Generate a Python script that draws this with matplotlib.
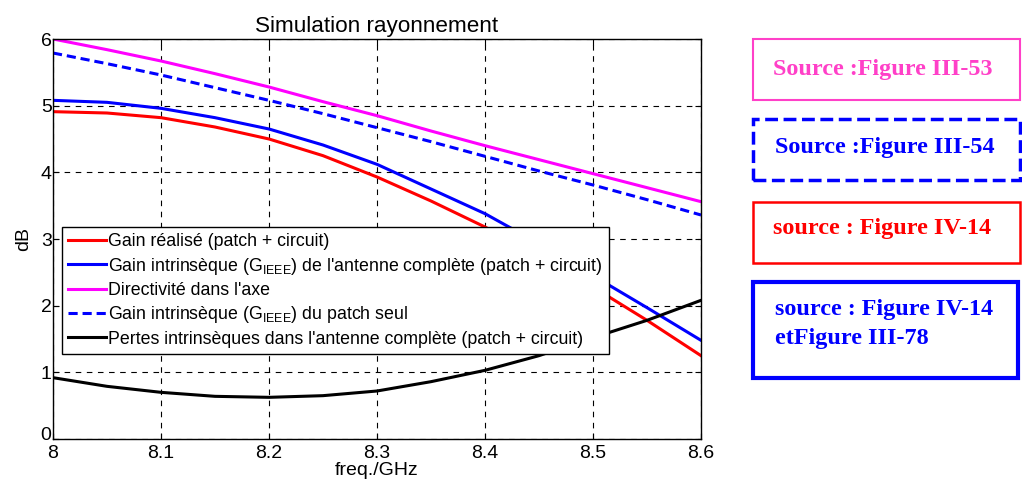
import matplotlib
matplotlib.use("Agg")
import matplotlib.pyplot as plt
from matplotlib.patches import Rectangle
from matplotlib.transforms import ScaledTranslation

plt.rcParams['font.family'] = ['Liberation Sans', 'DejaVu Sans']
plt.rcParams['mathtext.fontset'] = 'custom'
plt.rcParams['mathtext.rm'] = 'Liberation Sans'
plt.rcParams['mathtext.it'] = 'Liberation Sans'

freq = [8.0, 8.05, 8.1, 8.15, 8.2, 8.25, 8.3, 8.35, 8.4, 8.45, 8.5, 8.55, 8.6]
gain_realise = [4.91, 4.89, 4.82, 4.68, 4.50, 4.25, 3.93, 3.57, 3.18, 2.75, 2.28, 1.78, 1.25]
gain_intr_complete = [5.08, 5.05, 4.96, 4.82, 4.65, 4.41, 4.12, 3.75, 3.38, 2.93, 2.45, 1.97, 1.48]
directivite = [6.0, 5.84, 5.67, 5.48, 5.28, 5.06, 4.85, 4.62, 4.40, 4.19, 3.98, 3.77, 3.56]
gain_patch = [5.79, 5.63, 5.46, 5.27, 5.08, 4.88, 4.67, 4.46, 4.24, 4.02, 3.81, 3.59, 3.36]
pertes = [0.92, 0.79, 0.70, 0.64, 0.625, 0.65, 0.72, 0.86, 1.03, 1.25, 1.52, 1.78, 2.08]

labels = [
    "Gain réalisé (patch + circuit)",
    "Gain intrinsèque (G$_{\\mathrm{IEEE}}$) de l'antenne complète (patch + circuit)",
    "Directivité dans l'axe",
    "Gain intrinsèque (G$_{\\mathrm{IEEE}}$) du patch seul",
    "Pertes intrinsèques dans l'antenne complète (patch + circuit)",
]
xticks = [8, 8.1, 8.2, 8.3, 8.4, 8.5, 8.6]
xticklabels = ["8", "8.1", "8.2", "8.3", "8.4", "8.5", "8.6"]
yticks = [0, 1, 2, 3, 4, 5, 6]

sources = [
    ("Source :Figure III-53", "#ff40c8", "-", 1.5),
    ("Source :Figure III-54", "#0000ff", "--", 2.5),
    ("source : Figure IV-14", "#ff0000", "-", 1.8),
    ("source : Figure IV-14\netFigure III-78", "#0000ff", "-", 3.0),
]

fig = plt.figure(figsize=(10.22, 4.84), dpi=100)
ax = fig.add_axes([53/1022, 45/484, 648/1022, 400/484])

lw = 2.2
ax.plot(freq, gain_realise, color='#ff0000', lw=lw, label=labels[0])
ax.plot(freq, gain_intr_complete, color='#0000ff', lw=lw, label=labels[1])
ax.plot(freq, directivite, color='#ff00ff', lw=lw, label=labels[2])
ax.plot(freq, gain_patch, color='#0000ff', lw=lw, ls=(0, (3, 1.6)), label=labels[3])
ax.plot(freq, pertes, color='#000000', lw=lw, label=labels[4])

ax.set_xlim(8, 8.6)
ax.set_ylim(0, 6)
ax.set_xticks(xticks)
ax.set_xticklabels(xticklabels)
ax.set_yticks(yticks)
ax.tick_params(direction='in', labelsize=14, length=4, top=True, right=True, pad=1)
ax.tick_params(axis='x', pad=4)
ax.grid(True, color='black', ls=(0, (5, 5)), lw=0.8)
for s in ax.spines.values():
    s.set_linewidth(1.0)
ax.set_title("Simulation rayonnement", fontsize=16.2, pad=5)
ax.set_xlabel("freq./GHz", fontsize=14, labelpad=0)
ax.set_ylabel("dB", fontsize=14, labelpad=6)

# lift the "0" y tick label slightly so it doesn't collide with the "8" x tick label
ylab0 = ax.get_yticklabels()[0]
ylab0.set_transform(ylab0.get_transform() + ScaledTranslation(0, 5/100, fig.dpi_scale_trans))

leg = ax.legend(loc='upper left', bbox_to_anchor=(0.014, 0.53), fontsize=12.8,
                frameon=True, fancybox=False, framealpha=1, edgecolor='black',
                handlelength=2.1, handletextpad=0.15, borderpad=0.35, labelspacing=0.3,
                borderaxespad=0)
leg.get_frame().set_linewidth(1.0)

# right-side source boxes (figure pixel coordinates)
boxes = [(753, 39, 267, 61), (753, 119, 267, 61), (753, 202, 267, 61), (753, 282, 265, 96)]
text_y = [70, 148, 229, 299]
text_x = [773, 775, 773, 775]
for (txt, col, ls, blw), (bx, by, bw, bh), ty, tx in zip(sources, boxes, text_y, text_x):
    r = Rectangle((bx/1022, 1 - (by + bh)/484), bw/1022, bh/484, transform=fig.transFigure,
                  fill=False, edgecolor=col, ls=ls, lw=blw)
    fig.patches.append(r)
    fig.text(tx/1022, 1 - ty/484, txt, color=col, fontsize=17.4, fontweight='bold',
             family='Liberation Serif', va='center' if '\n' not in txt else 'top',
             linespacing=1.5)

fig.savefig("out.png", dpi=100)
